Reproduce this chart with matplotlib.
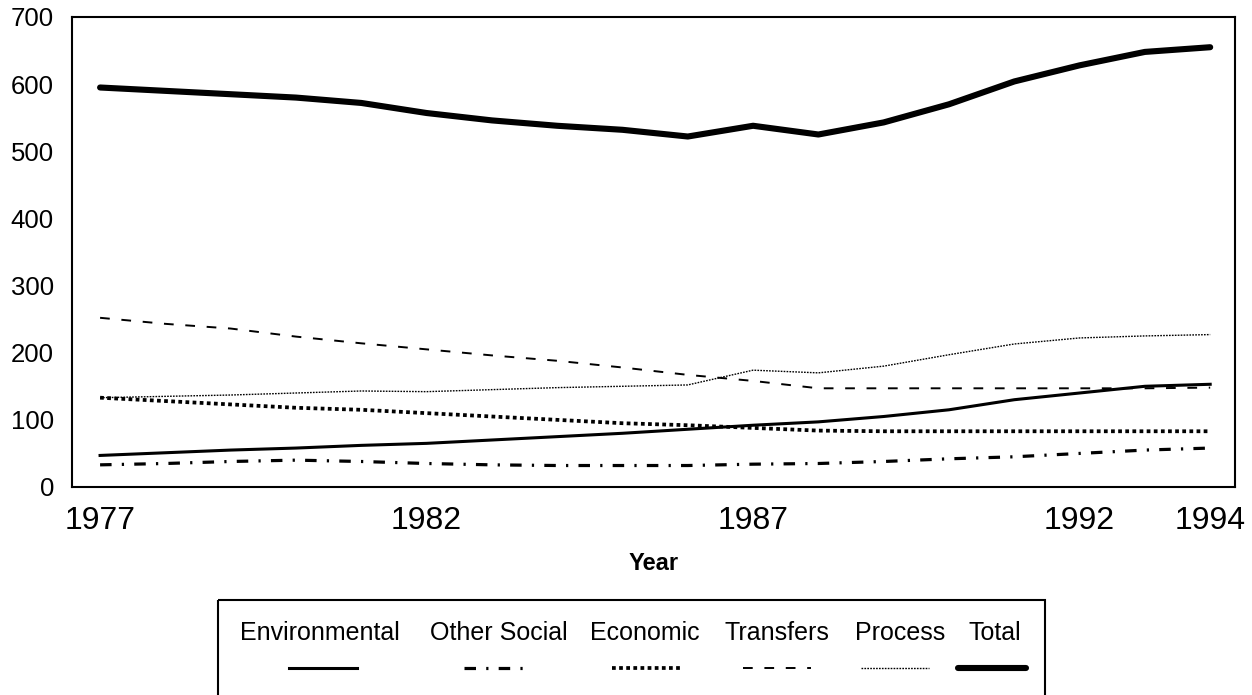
import matplotlib
matplotlib.use("Agg")
import matplotlib.pyplot as plt
from matplotlib.lines import Line2D
from matplotlib.patches import Rectangle

plt.rcParams['font.family'] = ['Liberation Sans', 'DejaVu Sans']

# values
years = list(range(1977, 1995))
total = [595, 590, 585, 580, 572, 557, 546, 538, 532, 522, 538, 525, 543, 570, 604, 628, 648, 655]
transfers = [252, 243, 236, 224, 214, 205, 196, 188, 178, 167, 158, 147, 147, 147, 147, 147, 147, 148]
process = [133, 135, 137, 140, 143, 142, 145, 148, 150, 152, 174, 170, 180, 197, 213, 222, 225, 227]
economic = [133, 128, 123, 118, 115, 110, 105, 100, 95, 92, 88, 84, 83, 83, 83, 83, 83, 83]
environmental = [47, 51, 55, 58, 62, 65, 70, 75, 80, 86, 92, 97, 105, 115, 130, 140, 150, 153]
other_social = [33, 35, 38, 40, 38, 35, 33, 32, 32, 32, 34, 35, 38, 42, 45, 50, 55, 58]

xticks = [1977, 1982, 1987, 1992, 1994]
yticks = [0, 100, 200, 300, 400, 500, 600, 700]

legend_labels = ['Environmental', 'Other Social', 'Economic', 'Transfers', 'Process', 'Total']

styles = {
    'Environmental': dict(lw=2.2, ls='-'),
    'Other Social': dict(lw=2.3, ls=(0, (3.6, 3.2, 0.7, 3.2))),
    'Economic': dict(lw=2.7, ls=(0, (1.0, 0.9))),
    'Transfers': dict(lw=1.4, ls=(0, (5.0, 6.0))),
    'Process': dict(lw=1.0, ls=(0, (1.2, 0.9))),
    'Total': dict(lw=4.4, ls='-', solid_capstyle='round'),
}
series = {
    'Environmental': environmental,
    'Other Social': other_social,
    'Economic': economic,
    'Transfers': transfers,
    'Process': process,
    'Total': total,
}

W, H = 1252, 695
fig = plt.figure(figsize=(W / 100, H / 100), dpi=100)
ax = fig.add_axes([72 / W, 1 - 487 / H, (1235 - 72) / W, (487 - 17) / H])

for name in legend_labels:
    ax.plot(years, series[name], color='black', **styles[name])

ax.set_xlim(1976.57, 1994.38)
ax.set_ylim(0, 700)
ax.set_xticks(xticks)
ax.set_xticklabels([str(x) for x in xticks], fontsize=23)
ax.set_yticks(yticks)
ax.set_yticklabels([str(y) for y in yticks], fontsize=18.5)
ax.tick_params(length=0)
ax.tick_params(axis='y', pad=13)
ax.tick_params(axis='x', pad=14)
for s in ax.spines.values():
    s.set_linewidth(1.5)
ax.set_xlabel('Year', fontsize=17, fontweight='bold', labelpad=11)

# legend: labels above their line samples, inside a box
lax = fig.add_axes([0, 0, 1, 1], facecolor='none')
lax.set_xlim(0, W)
lax.set_ylim(H, 0)
lax.axis('off')
lax.add_patch(Rectangle((218, 600), 1045 - 218, 110, fill=False, lw=1.5,
                        edgecolor='black', clip_on=False))
label_x = [320, 499, 645, 777, 900, 995]
handle_x = [323, 498, 646, 777, 895, 992]
for name, tx, hx in zip(legend_labels, label_x, handle_x):
    lax.text(tx, 633, name, fontsize=18, ha='center', va='center')
    lax.add_line(Line2D([hx - 34, hx + 34], [668, 668], color='black', **styles[name]))

fig.savefig('out.png', dpi=100)
